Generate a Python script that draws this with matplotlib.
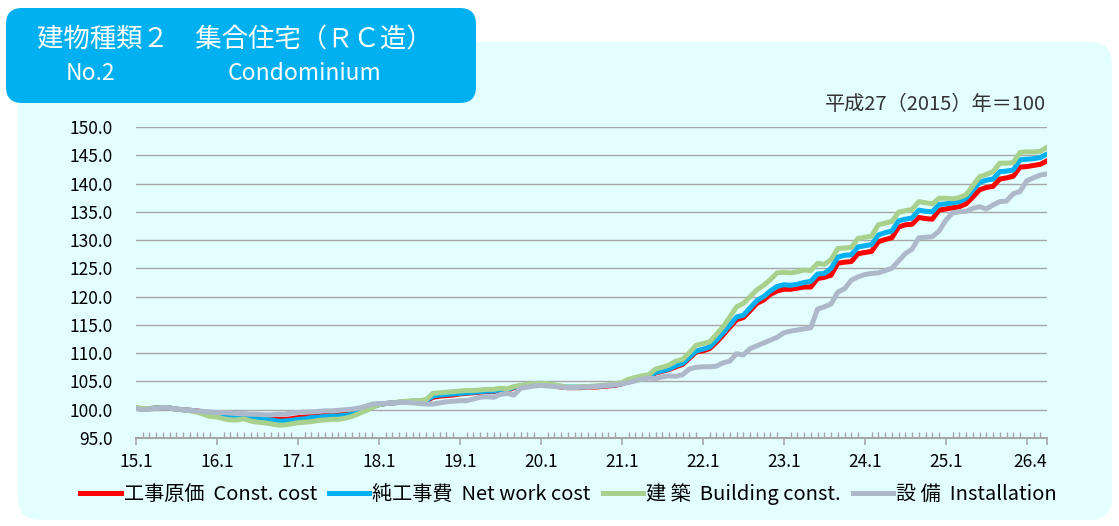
import matplotlib
matplotlib.use("Agg")
import matplotlib.pyplot as plt
from matplotlib.patches import FancyBboxPatch
from matplotlib.ticker import MultipleLocator

plt.rcParams['font.family'] = ['Noto Sans CJK JP', 'DejaVu Sans']

# monthly index values, 2015.1 - 2026.4 (2015 = 100)
const_cost = [
    100.3, 100.1, 100.2, 100.3, 100.4, 100.3, 100.1, 100.0, 99.9, 99.8, 99.6, 99.4,
    99.3, 99.1, 99.0, 98.9, 98.9, 98.7, 98.6, 98.5, 98.4, 98.3, 98.3, 98.4,
    98.6, 98.7, 98.8, 98.9, 99.0, 99.1, 99.1, 99.2, 99.3, 99.6, 100.0, 100.6,
    100.9, 101.1, 101.2, 101.3, 101.4, 101.4, 101.5, 101.5, 102.2, 102.4, 102.5, 102.6,
    102.8, 102.9, 103.0, 103.1, 103.2, 103.2, 103.5, 103.4, 103.9, 104.1, 104.3, 104.4,
    104.5, 104.4, 104.2, 104.0, 103.9, 103.9, 103.9, 104.0, 104.0, 104.1, 104.2, 104.3,
    104.6, 105.0, 105.3, 105.6, 105.8, 106.5, 106.8, 107.1, 107.6, 108.0, 109.1, 110.2,
    110.4, 110.8, 111.9, 113.2, 114.6, 115.9, 116.3, 117.5, 118.8, 119.4, 120.4, 121.0,
    121.3, 121.3, 121.5, 121.7, 121.7, 123.2, 123.4, 123.8, 125.9, 126.1, 126.2, 127.6,
    127.8, 128.0, 129.7, 130.1, 130.4, 132.3, 132.7, 132.8, 134.0, 133.8, 133.7, 135.3,
    135.5, 135.7, 135.9, 136.4, 137.6, 138.9, 139.3, 139.5, 140.8, 141.0, 141.3, 142.9,
    143.0, 143.2, 143.4, 144.0,
]
net_work_cost = [
    100.3, 100.1, 100.2, 100.3, 100.4, 100.3, 100.1, 100.0, 99.9, 99.7, 99.5, 99.3,
    99.2, 99.0, 98.9, 98.8, 98.8, 98.6, 98.4, 98.3, 98.2, 98.0, 98.0, 98.1,
    98.3, 98.4, 98.6, 98.7, 98.8, 98.9, 98.9, 99.0, 99.2, 99.5, 99.9, 100.5,
    100.9, 101.1, 101.2, 101.3, 101.4, 101.5, 101.5, 101.6, 102.4, 102.6, 102.7, 102.8,
    102.9, 103.0, 103.1, 103.2, 103.3, 103.3, 103.6, 103.5, 104.0, 104.2, 104.4, 104.5,
    104.6, 104.5, 104.3, 104.1, 104.0, 104.0, 104.0, 104.1, 104.1, 104.2, 104.3, 104.4,
    104.6, 105.0, 105.3, 105.6, 105.8, 106.6, 106.9, 107.2, 107.8, 108.2, 109.3, 110.4,
    110.7, 111.1, 112.3, 113.6, 115.0, 116.4, 116.7, 118.0, 119.3, 120.0, 121.0, 121.8,
    122.1, 122.0, 122.2, 122.5, 122.7, 124.0, 124.1, 125.0, 127.0, 127.3, 127.4, 128.8,
    129.0, 129.2, 130.9, 131.3, 131.6, 133.4, 133.7, 133.9, 135.3, 135.1, 135.0, 136.3,
    136.4, 136.6, 136.8, 137.4, 138.8, 140.2, 140.6, 140.8, 142.1, 142.2, 142.4, 144.2,
    144.3, 144.4, 144.6, 145.2,
]
building = [
    100.4, 100.2, 100.2, 100.3, 100.4, 100.3, 100.1, 100.0, 99.8, 99.6, 99.2, 98.8,
    98.7, 98.4, 98.2, 98.2, 98.4, 98.0, 97.8, 97.7, 97.5, 97.3, 97.3, 97.5,
    97.7, 97.8, 97.9, 98.1, 98.2, 98.3, 98.3, 98.5, 98.8, 99.3, 99.8, 100.4,
    100.9, 101.1, 101.2, 101.4, 101.5, 101.6, 101.6, 101.8, 102.9, 103.0, 103.1, 103.2,
    103.3, 103.4, 103.4, 103.5, 103.6, 103.6, 103.8, 103.7, 104.1, 104.3, 104.5, 104.6,
    104.7, 104.6, 104.4, 104.2, 104.0, 104.0, 104.1, 104.1, 104.2, 104.3, 104.4, 104.6,
    104.8, 105.4, 105.7, 106.0, 106.2, 107.2, 107.5, 107.9, 108.6, 108.9, 110.1, 111.4,
    111.7, 112.0, 113.3, 114.7, 116.4, 118.2, 118.8, 120.0, 121.2, 122.0, 123.0, 124.2,
    124.3, 124.2, 124.4, 124.7, 124.6, 125.9, 125.7, 126.6, 128.5, 128.6, 128.7, 130.3,
    130.5, 130.7, 132.7, 133.0, 133.3, 134.9, 135.2, 135.4, 136.8, 136.6, 136.4, 137.4,
    137.4, 137.3, 137.5, 138.0, 139.6, 141.2, 141.6, 142.1, 143.6, 143.6, 143.7, 145.5,
    145.6, 145.6, 145.7, 146.4,
]
installation = [
    100.2, 100.0, 100.1, 100.2, 100.4, 100.3, 100.1, 100.0, 99.9, 99.8, 99.7, 99.6,
    99.5, 99.5, 99.4, 99.3, 99.3, 99.2, 99.2, 99.1, 99.1, 99.2, 99.2, 99.4,
    99.5, 99.6, 99.6, 99.7, 99.8, 99.8, 99.9, 100.0, 100.1, 100.3, 100.6, 101.0,
    101.1, 101.1, 101.2, 101.3, 101.3, 101.2, 101.1, 101.0, 101.0, 101.2, 101.4, 101.5,
    101.6, 101.6, 101.9, 102.2, 102.3, 102.2, 102.7, 102.9, 102.6, 103.8, 104.0, 104.2,
    104.3, 104.2, 104.1, 104.0, 103.9, 103.9, 104.0, 104.0, 104.1, 104.2, 104.3, 104.4,
    104.6, 104.8, 105.1, 105.4, 105.6, 105.5, 105.8, 106.0, 105.9, 106.2, 107.2, 107.5,
    107.6, 107.6, 107.7, 108.3, 108.6, 109.9, 109.7, 110.8, 111.3, 111.8, 112.3, 112.8,
    113.6, 113.9, 114.1, 114.3, 114.5, 117.8, 118.2, 118.7, 120.8, 121.4, 122.9, 123.5,
    123.9, 124.1, 124.2, 124.6, 125.0, 126.3, 127.6, 128.4, 130.4, 130.5, 130.6, 131.6,
    133.5, 134.8, 135.0, 135.1, 135.6, 135.9, 135.5, 136.2, 136.8, 136.9, 138.2, 138.6,
    140.5, 141.0, 141.5, 141.7,
]

series_labels = ["工事原価  Const. cost", "純工事費  Net work cost",
                 "建 築  Building const.", "設 備  Installation"]
series_colors = ["#FF0000", "#00B0F0", "#A9D18E", "#ADB9CA"]

x_tick_pos = [0, 12, 24, 36, 48, 60, 72, 84, 96, 108, 120, 132, 135]
x_tick_labels = ["15.1", "16.1", "17.1", "18.1", "19.1", "20.1", "21.1",
                 "22.1", "23.1", "24.1", "25.1", "", "26.4"]

W, H = 1119, 526
fig = plt.figure(figsize=(W / 100, H / 100), dpi=100)
fig.patch.set_facecolor("white")

# background layer in pixel coordinates
bg = fig.add_axes([0, 0, 1, 1])
bg.set_xlim(0, W)
bg.set_ylim(H, 0)
bg.axis("off")
bg.add_patch(FancyBboxPatch((18, 42), 1094, 478,
                            boxstyle="round,pad=0,rounding_size=22",
                            fc="#E3FEFF", ec="none"))
bg.add_patch(FancyBboxPatch((6, 8), 470, 95,
                            boxstyle="round,pad=0,rounding_size=16",
                            fc="#00B0F0", ec="none"))
bg.text(37, 40, "建物種類２　集合住宅（ＲＣ造）", color="white",
        fontsize=19, va="center", ha="left")
bg.text(66, 74, "No.2", color="white", fontsize=16.5, va="center", ha="left")
bg.text(228, 74, "Condominium", color="white", fontsize=16.5,
        va="center", ha="left")
bg.text(1046, 104, "平成27（2015）年＝100", color="#333333",
        fontsize=14.5, va="center", ha="right")

ax = fig.add_axes([136 / W, 1 - 438 / H, (1047 - 136) / W, (438 - 127) / H])
ax.patch.set_alpha(0)
x = list(range(len(const_cost)))
for vals, lab, col in zip([const_cost, net_work_cost, building, installation],
                          series_labels, series_colors):
    ax.plot(x, vals, color=col, lw=3.6, label=lab, solid_joinstyle="round")

ax.set_xlim(0, 135)
ax.set_ylim(95, 150)
ax.set_yticks([95 + 5 * k for k in range(12)])
ax.set_yticklabels([f"{95 + 5 * k:.1f}" for k in range(12)], fontsize=12.5)
ax.grid(axis="y", color="#A6A6A6", lw=1)
ax.set_axisbelow(True)
for s in ["left", "right", "top"]:
    ax.spines[s].set_visible(False)
ax.spines["bottom"].set_color("#A6A6A6")
ax.spines["bottom"].set_linewidth(1.5)
ax.tick_params(axis="y", length=0, pad=17)

ax.set_xticks(x_tick_pos)
ax.set_xticklabels(x_tick_labels, fontsize=12.5)
ax.xaxis.set_minor_locator(MultipleLocator(1))
ax.tick_params(axis="x", which="major", direction="out", length=5,
               color="#A6A6A6", width=1.2, pad=6)
ax.tick_params(axis="x", which="minor", direction="in", length=4,
               color="#A6A6A6", width=1)
ax.get_xticklabels()[-1].set_horizontalalignment("right")

fig.legend(loc="center", bbox_to_anchor=(0.508, 1 - 494 / H), ncol=4,
           frameon=False, fontsize=14.5, handlelength=2.0, handletextpad=0.15,
           columnspacing=0.6)

fig.savefig("out.png", dpi=100, facecolor="white")
